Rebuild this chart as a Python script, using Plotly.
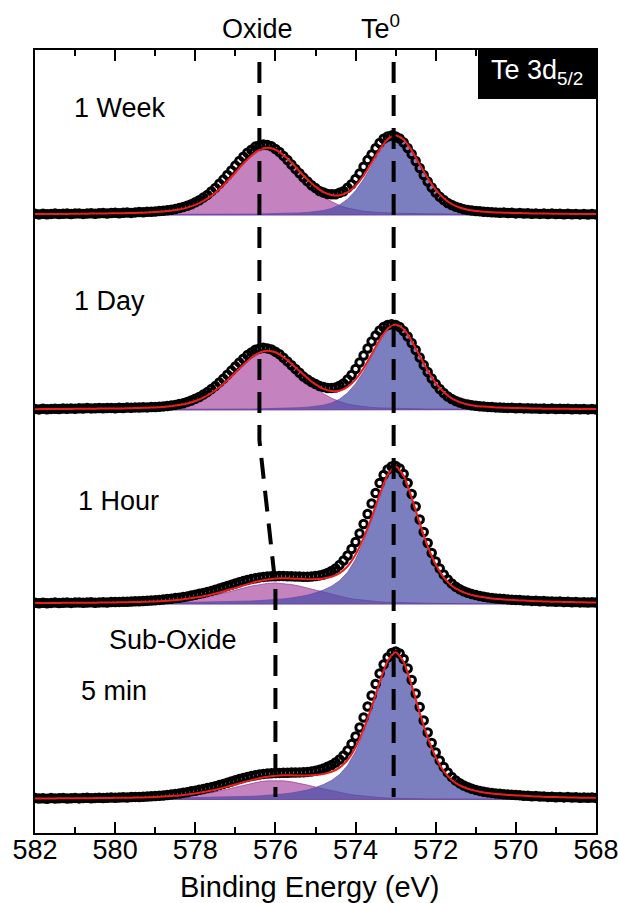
import plotly.graph_objects as go

# ---------------- data ----------------
energy_fit = [round(582.0 - 0.2 * i, 1) for i in range(71)]    # eV, component / fit grid
energy_data = [round(582.0 - 0.1 * j, 1) for j in range(141)]  # eV, measured grid

spectra = ["1 Week", "1 Day", "1 Hour", "5 min"]
x_ticks = [582, 580, 578, 576, 574, 572, 570, 568]

oxide_1w = [0.6,0.7,0.7,0.7,0.8,0.9,0.9,1.0,1.1,1.2,
            1.3,1.4,1.6,1.8,2.0,2.4,3.0,3.8,5.0,6.9,
            9.6,13.4,18.5,25.1,33.0,41.7,50.6,58.4,64.0,66.0,
            64.0,58.4,50.6,41.7,33.0,25.1,18.5,13.4,9.6,6.9,
            5.0,3.8,3.0,2.4,2.0,1.8,1.6,1.4,1.3,1.2,
            1.1,1.0,0.9,0.9,0.8,0.7,0.7,0.7,0.6,0.6,
            0.6,0.6,0.5,0.5,0.5,0.5,0.5,0.4,0.4,0.4,
            0.4]
te_1w = [0.3,0.3,0.3,0.3,0.3,0.3,0.4,0.4,0.4,0.4,
         0.4,0.4,0.4,0.4,0.5,0.5,0.5,0.5,0.5,0.5,
         0.5,0.6,0.6,0.7,0.7,0.8,0.9,0.9,1.1,1.2,
         1.4,1.6,1.8,2.1,2.6,3.3,4.4,6.6,10.1,15.8,
         24.3,35.7,49.3,63.0,73.8,78.0,73.8,63.0,49.3,35.7,
         24.3,15.8,10.1,6.6,4.4,3.3,2.6,2.1,1.8,1.6,
         1.4,1.2,1.1,0.9,0.9,0.8,0.7,0.7,0.6,0.6,
         0.5]
data_1w = [1.2,0.6,1.3,0.8,1.1,1.4,0.9,1.2,1.5,1.0,
           1.4,1.6,1.1,1.5,1.8,1.3,1.7,1.9,1.5,2.0,
           2.2,1.8,2.3,2.4,2.1,2.6,2.9,2.7,3.2,3.3,
           3.5,3.9,4.3,4.7,5.3,5.9,6.9,7.9,9.3,10.7,
           12.7,14.8,17.4,20.1,23.6,27.1,31.2,35.4,40.0,44.6,
           49.4,54.1,58.2,62.3,65.3,68.4,69.5,70.6,69.9,68.7,
           66.0,63.0,59.1,55.0,50.5,46.0,41.7,37.4,33.6,29.8,
           26.9,24.0,22.5,21.0,20.8,20.7,22.3,23.8,27.3,30.8,
           36.1,41.5,48.2,54.9,60.5,66.8,72.0,76.3,78.5,79.5,
           78.6,76.5,72.5,67.0,61.0,54.0,47.0,40.0,33.5,27.5,
           22.5,18.2,15.0,12.0,10.0,8.2,6.9,5.8,5.0,4.5,
           4.0,3.7,3.2,3.1,2.7,2.6,2.2,2.4,1.9,2.2,
           1.6,2.0,1.5,1.8,1.2,1.6,1.1,1.5,1.0,1.4,
           0.9,1.3,0.8,1.2,0.7,1.1,0.6,1.0,0.5,0.9,
           0.6]

oxide_1d = [0.5,0.6,0.6,0.6,0.7,0.8,0.8,0.9,1.0,1.0,
            1.1,1.2,1.4,1.6,1.8,2.1,2.6,3.3,4.4,6.0,
            8.4,11.8,16.3,22.1,29.0,36.7,44.4,51.3,56.2,58.0,
            56.2,51.3,44.4,36.7,29.0,22.1,16.3,11.8,8.4,6.0,
            4.4,3.3,2.6,2.1,1.8,1.6,1.4,1.2,1.1,1.0,
            1.0,0.9,0.8,0.8,0.7,0.6,0.6,0.6,0.5,0.5,
            0.5,0.5,0.4,0.4,0.4,0.4,0.4,0.4,0.3,0.3,
            0.3]
te_1d = [0.3,0.3,0.3,0.3,0.3,0.4,0.4,0.4,0.4,0.4,
         0.4,0.4,0.4,0.4,0.5,0.5,0.5,0.5,0.5,0.5,
         0.6,0.6,0.7,0.7,0.8,0.8,0.9,1.0,1.2,1.3,
         1.5,1.7,1.9,2.3,2.8,3.5,4.8,7.1,10.8,17.1,
         26.2,38.5,53.1,67.9,79.5,84.0,79.5,67.9,53.1,38.5,
         26.2,17.1,10.8,7.1,4.8,3.5,2.8,2.3,1.9,1.7,
         1.5,1.3,1.2,1.0,0.9,0.8,0.8,0.7,0.7,0.6,
         0.6]
data_1d = [1.1,0.6,1.2,0.7,1.1,1.3,0.9,1.4,1.2,1.6,
           1.3,1.7,1.5,1.9,1.6,1.8,1.9,1.7,2.0,2.1,
           1.8,2.3,2.0,2.4,2.3,2.6,2.4,2.7,2.6,2.9,
           3.0,3.3,3.6,4.0,4.6,5.1,6.0,6.8,8.1,9.5,
           11.2,13.0,15.4,17.9,20.9,23.9,27.6,31.3,35.3,39.4,
           43.5,47.6,51.2,54.9,57.6,60.3,61.4,62.3,61.6,60.6,
           58.3,55.7,52.2,48.6,44.8,41.0,37.2,33.4,30.6,27.9,
           26.0,24.0,23.0,22.0,22.0,22.4,24.2,26.5,30.5,35.0,
           41.0,47.5,54.5,61.5,68.5,74.5,79.5,83.0,85.0,85.8,
           85.0,83.0,79.0,73.5,67.0,60.0,52.5,45.0,38.0,31.5,
           26.0,21.0,17.0,13.5,11.0,9.0,7.5,6.3,5.4,4.7,
           4.2,3.8,3.4,3.1,2.9,2.6,2.5,2.3,2.1,2.2,
           1.8,2.0,1.6,1.8,1.4,1.6,1.2,1.5,1.1,1.4,
           1.0,1.3,0.9,1.2,0.8,1.1,0.7,1.0,0.6,0.9,
           0.6]

suboxide_1h = [0.3,0.3,0.3,0.3,0.4,0.4,0.4,0.5,0.5,0.5,
               0.6,0.7,0.8,0.9,1.1,1.4,1.7,2.2,2.8,3.7,
               4.7,6.0,7.6,9.5,11.6,13.7,15.9,17.9,19.5,20.6,
               21.0,20.6,19.5,17.9,15.9,13.7,11.6,9.5,7.6,6.0,
               4.7,3.7,2.8,2.2,1.7,1.4,1.1,0.9,0.8,0.7,
               0.6,0.5,0.5,0.5,0.4,0.4,0.4,0.3,0.3,0.3,
               0.3,0.3,0.3,0.3,0.2,0.2,0.2,0.2,0.2,0.2,
               0.2]
te_1h = [0.75,0.75,0.75,0.8,0.8,0.8,0.8,0.8,0.9,0.9,
         1.0,1.0,1.1,1.1,1.2,1.2,1.3,1.4,1.5,1.6,
         1.7,1.8,1.9,2.0,2.2,2.4,2.7,3.0,3.4,3.8,
         4.4,5.1,6.1,7.3,8.8,11.2,14.0,17.7,23.3,31.7,
         44.7,62.4,83.8,107.1,127.6,136.0,127.2,105.5,80.1,57.0,
         38.9,26.1,17.8,12.8,9.7,7.6,6.3,5.3,4.6,3.9,
         3.5,3.1,2.7,2.4,2.2,2.0,1.9,1.7,1.5,1.4,
         1.4]
data_1h = [1.2,0.7,1.3,0.8,1.1,1.4,0.9,1.3,1.5,1.1,
           1.4,1.6,1.2,1.5,1.7,1.3,1.6,1.8,1.5,1.9,
           1.9,2.1,2.3,2.2,2.5,2.7,2.7,3.0,3.2,3.5,
           3.8,4.1,4.4,4.9,5.3,5.9,6.3,7.0,7.6,8.5,
           9.2,10.2,11.0,12.1,13.1,14.3,15.4,16.7,18.0,19.3,
           20.5,21.7,22.9,24.0,25.0,25.8,26.6,27.1,27.5,27.7,
           27.8,27.9,27.9,27.8,27.7,27.5,27.4,27.3,27.3,27.5,
           27.9,28.6,29.5,31.0,33.0,35.6,39.0,43.5,48.5,55.0,
           62.0,70.5,80.0,90.0,100.5,111.0,121.0,129.0,134.5,137.5,
           138.0,135.5,130.0,121.0,110.0,97.5,84.5,72.0,61.0,51.0,
           42.5,35.5,29.5,24.5,20.5,17.3,14.8,12.8,11.2,9.9,
           8.9,8.0,7.3,6.6,6.1,5.6,5.3,4.9,4.6,4.3,
           4.1,3.9,3.5,3.6,3.1,3.2,2.7,2.9,2.4,2.6,
           2.2,2.4,2.0,2.2,1.8,2.0,1.6,1.8,1.5,1.7,
           1.5]

suboxide_5m = [0.3,0.3,0.3,0.3,0.3,0.4,0.4,0.4,0.5,0.5,
               0.6,0.6,0.7,0.8,1.0,1.2,1.5,2.0,2.5,3.3,
               4.3,5.5,6.9,8.6,10.5,12.4,14.4,16.2,17.7,18.7,
               19.0,18.7,17.7,16.2,14.4,12.4,10.5,8.6,6.9,5.5,
               4.3,3.3,2.5,2.0,1.5,1.2,1.0,0.8,0.7,0.6,
               0.6,0.5,0.5,0.4,0.4,0.4,0.3,0.3,0.3,0.3,
               0.3,0.3,0.3,0.3,0.2,0.2,0.2,0.2,0.2,0.2,
               0.2]
te_5m = [0.8,0.8,0.8,0.85,0.85,0.9,0.9,0.95,1.0,1.0,
         1.05,1.1,1.15,1.2,1.25,1.3,1.4,1.5,1.6,1.7,
         1.8,1.9,2.0,2.2,2.4,2.6,2.9,3.2,3.6,4.1,
         4.7,5.5,6.5,7.8,9.5,12.0,15.0,19.0,25.0,34.0,
         48.0,67.0,90.0,115.0,137.0,146.0,136.5,113.3,86.0,61.2,
         41.8,28.0,19.1,13.7,10.4,8.2,6.7,5.7,5.0,4.2,
         3.8,3.4,2.9,2.6,2.3,2.2,2.0,1.8,1.6,1.5,
         1.5]
data_5m = [1.4,0.9,1.3,0.8,1.4,1.0,1.2,1.5,0.9,1.3,
           1.6,1.1,1.5,1.7,1.2,1.6,1.8,1.4,1.7,2.0,
           1.8,2.0,2.2,2.0,2.4,2.6,2.5,2.8,3.0,3.2,
           3.4,3.7,4.0,4.5,4.9,5.6,6.0,6.8,7.3,8.2,
           8.8,9.7,10.4,11.4,12.2,13.3,14.4,15.6,16.8,18.0,
           19.2,20.4,21.6,22.6,23.5,24.3,25.0,25.6,26.0,26.3,
           26.5,26.6,26.7,26.8,26.9,27.0,27.1,27.3,27.6,28.1,
           28.8,29.8,31.0,32.7,34.5,37.0,40.0,44.0,49.0,55.5,
           63.0,72.0,82.0,93.0,104.0,115.5,126.0,135.0,142.0,146.5,
           148.0,146.0,140.5,131.0,119.5,106.0,92.5,79.0,67.0,56.5,
           47.0,39.0,32.5,27.0,22.5,19.0,16.2,14.0,12.2,10.8,
           9.6,8.6,7.8,7.1,6.6,6.1,5.8,5.3,5.0,4.7,
           4.4,4.2,3.7,3.8,3.3,3.4,2.9,3.1,2.6,2.8,
           2.3,2.6,2.1,2.4,2.0,2.2,1.8,2.0,1.7,1.9,
           1.6]

oxide_components = [oxide_1w, oxide_1d, suboxide_1h, suboxide_5m]
te_components = [te_1w, te_1d, te_1h, te_5m]
measured = [data_1w, data_1d, data_1h, data_5m]

# vertical stacking offsets (arbitrary intensity units)
offsets = [618.0, 423.0, 229.0, 33.5]

# reference lines
te0_energy = 573.05
oxide_path_x = [576.4, 576.4, 576.0, 576.0]
oxide_path_y = [771, 393, 248, 36]
te0_path_y = [771, 36]

# ---------------- layout geometry ----------------
W, H = 618, 903
ML, MR, MT, MB = 35, 22, 50, 70
PW, PH = W - ML - MR, H - MT - MB


def paper(xp, yp):
    return (xp - ML) / PW, (H - MB - yp) / PH


FONT = "Liberation Sans, Arial, Helvetica, sans-serif"
OX_FILL = "rgba(176,88,168,0.75)"
OX_LINE = "rgba(150,60,150,0.9)"
TE_FILL = "rgba(72,78,168,0.72)"
TE_LINE = "rgba(110,70,165,0.9)"

fig = go.Figure()

for name, ox, te, dat, off in zip(spectra, oxide_components, te_components, measured, offsets):
    poly_x = energy_fit + energy_fit[::-1]
    for comp, fc, lc, tag in [(ox, OX_FILL, OX_LINE, " oxide"), (te, TE_FILL, TE_LINE, " Te0")]:
        poly_y = [off + v for v in comp] + [off] * len(energy_fit)
        fig.add_trace(go.Scatter(x=poly_x, y=poly_y, mode="lines",
                                 line=dict(color=lc, width=0.8),
                                 fill="toself", fillcolor=fc, name=name + tag,
                                 hoverinfo="skip", showlegend=False))
    fig.add_trace(go.Scatter(x=energy_data, y=[off + v for v in dat], mode="markers",
                             marker=dict(symbol="circle-open", size=7.5, color="black",
                                         line=dict(width=3, color="black")),
                             name=name + " data", showlegend=False))
    fit = [off + a + b for a, b in zip(ox, te)]
    fig.add_trace(go.Scatter(x=energy_fit, y=fit, mode="lines",
                             line=dict(color="rgb(235,30,30)", width=2, shape="spline", smoothing=0.6),
                             name=name + " fit", showlegend=False))

# dashed guide lines
fig.add_trace(go.Scatter(x=oxide_path_x, y=oxide_path_y, mode="lines",
                         line=dict(color="black", width=4, dash="21px,12px"),
                         hoverinfo="skip", showlegend=False))
fig.add_trace(go.Scatter(x=[te0_energy, te0_energy], y=te0_path_y, mode="lines",
                         line=dict(color="black", width=4, dash="21px,12px"),
                         hoverinfo="skip", showlegend=False))

annotations = []


def label(text, xp, yp, anchor="left", size=27, color="black"):
    px_, py_ = paper(xp, yp)
    annotations.append(dict(text=text, x=px_, y=py_, xref="paper", yref="paper",
                            xanchor=anchor, yanchor="middle", showarrow=False,
                            font=dict(family=FONT, size=size, color=color)))


label("Oxide", 257, 29, "center")
label("Te<sup>0</sup>", 381, 27, "center")
for txt, xp, yp in [("1 Week", 72, 108), ("1 Day", 72, 301), ("1 Hour", 76, 501),
                    ("Sub-Oxide", 107, 640), ("5 min", 79, 691)]:
    label(txt, xp, yp, "left")
label("Te 3d<sub>5/2</sub>", 537, 72, "center", size=27, color="white")
label("Binding Energy (eV)", 310, 887, "center", size=29)

bx0, by0 = paper(478, 99)
bx1, by1 = paper(597, 48)
fig.add_shape(type="rect", xref="paper", yref="paper", x0=bx0, y0=by0, x1=bx1, y1=by1,
              fillcolor="black", line=dict(width=0), layer="above")

fig.update_layout(
    width=W, height=H,
    margin=dict(l=ML, r=MR, t=MT, b=MB, pad=0, autoexpand=False),
    paper_bgcolor="white", plot_bgcolor="white",
    font=dict(family=FONT, color="black"),
    annotations=annotations,
    xaxis=dict(range=[582, 568], tickmode="array", tickvals=x_ticks,
               ticktext=[str(v) for v in x_ticks], automargin=False,
               ticklabeloverflow="allow", ticklabelstandoff=-8,
               ticks="inside", ticklen=11, tickwidth=2, tickcolor="black",
               minor=dict(dtick=1, tick0=568, ticks="inside", ticklen=6, tickwidth=2, tickcolor="black"),
               showline=True, linewidth=2, linecolor="black", mirror="allticks",
               showgrid=False, zeroline=False,
               tickfont=dict(family=FONT, size=27, color="black")),
    yaxis=dict(range=[0, PH], showticklabels=False, ticks="", showline=True, automargin=False,
               linewidth=2, linecolor="black", mirror=True, showgrid=False, zeroline=False),
)

# page body margin removed so the 618x903 figure fills the window exactly
fig.write_html("out.html", config={"displayModeBar": False},
               post_script="document.body.style.margin='0';")
